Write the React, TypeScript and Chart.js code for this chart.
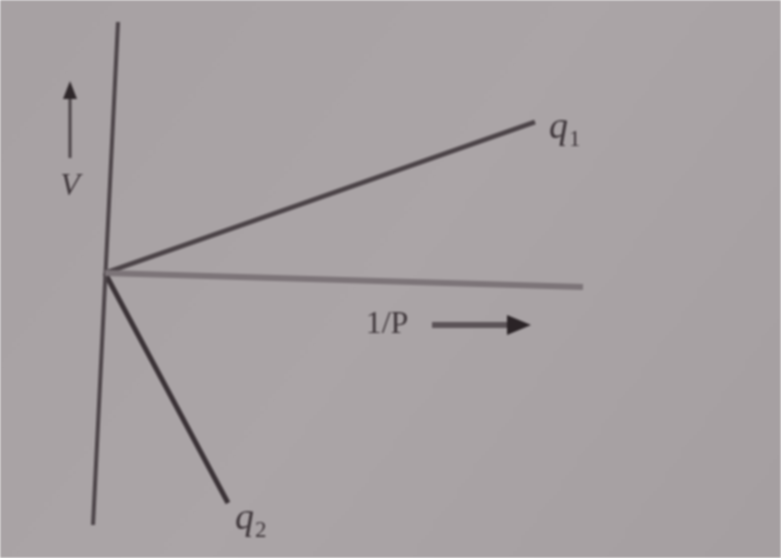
import React, { useEffect, useRef } from "react";
import { Chart, registerables } from "chart.js";

Chart.register(...registerables);

// Axes and the two q lines, in plot units with the origin where they meet.
const verticalAxis = [
  { x: 0.13, y: 2.51 },
  { x: -0.12, y: -2.52 },
];
const pressureAxis = [
  { x: 0, y: 0 },
  { x: 4.78, y: -0.14 },
];
const q1Line = [
  { x: 0, y: 0 },
  { x: 4.3, y: 1.51 },
];
const q2Line = [
  { x: 0, y: 0 },
  { x: 1.23, y: -2.3 },
];

// Arrows beside the axis names: [from, to]
const vArrow = [
  { x: -0.35, y: 1.15 },
  { x: -0.35, y: 1.88 },
];
const pArrow = [
  { x: 3.27, y: -0.52 },
  { x: 4.22, y: -0.52 },
];

type Label = { text: string; sub?: string; x: number; y: number; size: number; italic: boolean };
const labelItems: Label[] = [
  { text: "V", x: -0.35, y: 0.86, size: 32, italic: true },
  { text: "q", sub: "1", x: 4.44, y: 1.45, size: 38, italic: true },
  { text: "1/P", x: 2.82, y: -0.52, size: 32, italic: false },
  { text: "q", sub: "2", x: 1.3, y: -2.46, size: 38, italic: true },
];

const annotate = {
  id: "annotate",
  beforeDraw(chart: any) {
    const { ctx, width, height } = chart;
    ctx.save();
    const g = ctx.createLinearGradient(0, 0, width, height);
    g.addColorStop(0, "#a7a1a3");
    g.addColorStop(0.5, "#aba5a7");
    g.addColorStop(1, "#a59fa1");
    ctx.fillStyle = g;
    ctx.fillRect(0, 0, width, height);
    ctx.restore();
  },
  afterDatasetsDraw(chart: any) {
    const { ctx, scales } = chart;
    const px = (v: number) => scales.x.getPixelForValue(v);
    const py = (v: number) => scales.y.getPixelForValue(v);
    ctx.save();
    ctx.fillStyle = "#3f373b";
    ctx.strokeStyle = "#4a4246";

    // V arrow (upwards)
    {
      const x0 = px(vArrow[0].x), y0 = py(vArrow[0].y);
      const x1 = px(vArrow[1].x), y1 = py(vArrow[1].y);
      ctx.lineWidth = 3;
      ctx.beginPath();
      ctx.moveTo(x0, y0);
      ctx.lineTo(x1, y1 + 10);
      ctx.stroke();
      ctx.fillStyle = "#2e272a";
      ctx.beginPath();
      ctx.moveTo(x1, y1 - 4);
      ctx.lineTo(x1 - 7, y1 + 14);
      ctx.lineTo(x1 + 7, y1 + 14);
      ctx.closePath();
      ctx.fill();
    }
    // 1/P arrow (rightwards)
    {
      const x0 = px(pArrow[0].x), y0 = py(pArrow[0].y);
      const x1 = px(pArrow[1].x);
      ctx.strokeStyle = "#5b5357";
      ctx.lineWidth = 6;
      ctx.beginPath();
      ctx.moveTo(x0, y0);
      ctx.lineTo(x1 - 14, y0);
      ctx.stroke();
      ctx.fillStyle = "#2a2326";
      ctx.beginPath();
      ctx.moveTo(x1 + 4, y0);
      ctx.lineTo(x1 - 20, y0 - 10);
      ctx.lineTo(x1 - 20, y0 + 10);
      ctx.closePath();
      ctx.fill();
    }

    ctx.fillStyle = "#3d3539";
    ctx.textAlign = "left";
    ctx.textBaseline = "middle";
    for (const l of labelItems) {
      ctx.font = `${l.italic ? "italic " : ""}${l.size}px "Liberation Serif", serif`;
      const x = px(l.x), y = py(l.y);
      const w = ctx.measureText(l.text).width;
      ctx.fillText(l.text, x - (l.sub ? 0 : w / 2), y);
      if (l.sub) {
        ctx.font = `${Math.round(l.size * 0.6)}px "Liberation Serif", serif`;
        ctx.fillText(l.sub, x + w + 1, y + l.size * 0.32);
      }
    }
    ctx.restore();
  },
};

export default function App() {
  const ref = useRef<HTMLCanvasElement>(null);

  useEffect(() => {
    if (!ref.current) return;
    const line = (data: any[], color: string, width: number) => ({
      data,
      borderColor: color,
      borderWidth: width,
      showLine: true,
      pointRadius: 0,
      fill: false,
      borderCapStyle: "butt" as const,
    });
    const chart = new Chart(ref.current, {
      type: "scatter",
      data: {
        datasets: [
          line(pressureAxis, "#7c7478", 6),
          line(verticalAxis, "#4c4448", 4),
          line(q1Line, "#4b4347", 5),
          line(q2Line, "#3a3236", 5),
        ],
      },
      options: {
        animation: false,
        responsive: false,
        layout: { padding: 0 },
        plugins: { legend: { display: false }, tooltip: { enabled: false } },
        scales: {
          x: { type: "linear", min: -1.05, max: 6.76, display: false },
          y: { type: "linear", min: -2.85, max: 2.73, display: false },
        },
      },
      plugins: [annotate],
    });
    return () => chart.destroy();
  }, []);

  return (
    <div style={{ position: "fixed", left: 0, top: 0, width: 781, height: 558 }}>
      <canvas ref={ref} width={781} height={558} style={{ display: "block", filter: "blur(1.2px)" }} />
    </div>
  );
}
